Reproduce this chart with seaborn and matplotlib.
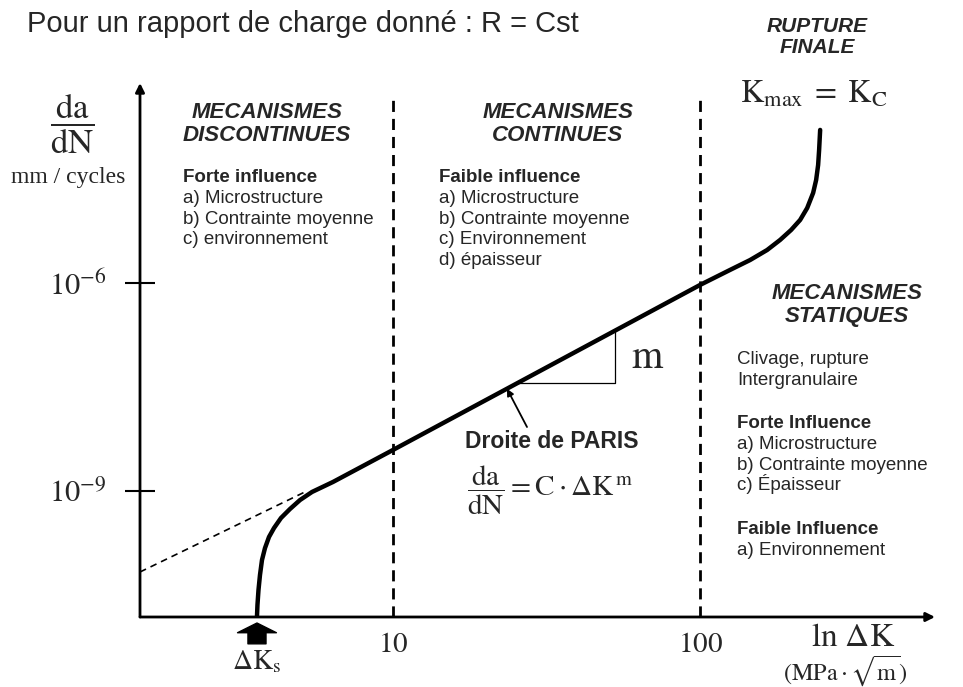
import numpy as np
import matplotlib
matplotlib.use('Agg')
import matplotlib.pyplot as plt
import seaborn as sns

dk = [3.606, 3.619, 3.647, 3.688, 3.744, 3.829, 3.946, 4.097, 4.318, 4.619,
      4.980, 5.448, 6.377, 10.0, 100.0, 125.3, 145.5, 165.3, 182.2, 197.9,
      211.7, 223.2, 233.4, 238.7, 242.3, 244.1, 246.0]
dadn = [1.55e-11, 2.27e-11, 3.73e-11, 6.13e-11, 1.01e-10, 1.50e-10, 2.17e-10,
        2.92e-10, 4.08e-10, 5.50e-10, 7.41e-10, 9.68e-10, 1.35e-9, 3.91e-9,
        9.4e-7, 1.55e-6, 2.15e-6, 3.00e-6, 4.19e-6, 5.84e-6, 8.14e-6, 1.21e-5,
        2.0e-5, 3.07e-5, 5.06e-5, 8.33e-5, 1.62e-4]
# prolongement de la droite de Paris (pointilles)
ext_dk = [1.5, 5.17]
ext_dadn = [6.78e-11, 9.7e-10]
# limites des regimes
regime_dk = [10, 100]
regime_top = 4.4e-4
yticks = [1e-9, 1e-6]
ytick_labels = [r'$10^{-9}$', r'$10^{-6}$']
xticks = [10, 100]
xtick_labels = [r'$\mathrm{10}$', r'$\mathrm{100}$']
xlim = (1.5, 582)
ylim = (1.52e-11, 7.7e-4)
# triangle de pente et fleche "Droite de PARIS"
slope_dk = [25.4, 52.8]
paris_arrow_dk = 23.5

# textes des trois zones
left_lines = ['Forte influence', 'a) Microstructure', 'b) Contrainte moyenne', 'c) environnement']
mid_lines = ['Faible influence', 'a) Microstructure', 'b) Contrainte moyenne',
             'c) Environnement', 'd) épaisseur']
right_a = ['Clivage, rupture', 'Intergranulaire']
right_b = ['Forte Influence', 'a) Microstructure', 'b) Contrainte moyenne', 'c) Épaisseur']
right_c = ['Faible Influence', 'a) Environnement']

sns.set_theme(style='white')
plt.rcParams['font.family'] = ['Liberation Sans', 'DejaVu Sans']
plt.rcParams['mathtext.fontset'] = 'stix'

W, H = 963, 687
fig = plt.figure(figsize=(W / 100, H / 100), dpi=100)
ax = fig.add_axes([140 / W, 1 - 617 / H, (935 - 140) / W, (617 - 83) / H])


def P(x, y):
    return x / W, 1 - y / H


def paris(k):
    return 10 ** np.interp(np.log10(k), np.log10(dk), np.log10(dadn))


def block(x, y, lines, bold_first=True, step=20.8):
    for i, t in enumerate(lines):
        w = 'bold' if (bold_first and i == 0) else 'normal'
        fig.text(*P(x, y + i * step + 6), t, fontsize=13.5, weight=w,
                 ha='left', va='baseline')


ax.set(xscale='log', yscale='log')
ax.set_xlim(*xlim)
ax.set_ylim(*ylim)
for s in ax.spines.values():
    s.set_visible(False)

sns.lineplot(x=dk, y=dadn, ax=ax, sort=False, estimator=None, color='black', lw=3.2)
ax.lines[-1].set_solid_joinstyle('round')
ax.plot(ext_dk, ext_dadn, color='black', lw=1.2, ls=(0, (4, 3)))
ax.vlines(regime_dk, ylim[0], regime_top, colors='black', lw=2, linestyles=(0, (4, 2.5)))

# axes avec fleches
arr = dict(arrowstyle='-|>', lw=2, color='black', mutation_scale=13, shrinkA=0, shrinkB=0)
ax.annotate('', xy=(0, 1), xytext=(0, 0), xycoords='axes fraction', arrowprops=arr)
ax.annotate('', xy=(1, 0), xytext=(0, 0), xycoords='axes fraction', arrowprops=arr)

ax.minorticks_off()
ax.set_yticks(yticks, ytick_labels)
ax.tick_params(axis='y', direction='inout', length=22, width=1.5, color='black',
               labelsize=22, pad=13, left=True)
ax.set_xticks(xticks, xtick_labels)
ax.tick_params(axis='x', length=0, labelsize=21, pad=9, bottom=True)

# triangle de pente
k1, k2 = slope_dk
ax.plot([k1, k2, k2], [paris(k1), paris(k1), paris(k2)], color='black', lw=0.9)
ax.text(k2 * 1.13, np.sqrt(paris(k1) * paris(k2)), r'$\mathrm{m}$', fontsize=29,
        ha='left', va='center')

# fleche Droite de PARIS
ax.annotate('', xy=(paris_arrow_dk, paris(paris_arrow_dk)), xytext=(527, H - 427),
            textcoords='figure pixels',
            arrowprops=dict(arrowstyle='-|>', lw=1.3, color='black', mutation_scale=10,
                            shrinkA=0, shrinkB=0))

# seuil delta K_s
ax.annotate('', xy=(dk[0], -6 / 534), xycoords=('data', 'axes fraction'),
            xytext=(0, -15), textcoords='offset points',
            arrowprops=dict(arrowstyle='simple,head_length=0.35,head_width=1.4,tail_width=0.65',
                            color='black', mutation_scale=20, shrinkA=0, shrinkB=0))

serif = ['Liberation Serif', 'DejaVu Serif']

fig.text(*P(27, 24), 'Pour un rapport de charge donné : R = Cst', fontsize=21, va='center')
fig.text(*P(72, 124), r'$\dfrac{\mathrm{da}}{\mathrm{dN}}$', fontsize=25, ha='center', va='center')
fig.text(*P(68, 177), 'mm / cycles', family=serif, fontsize=17, ha='center', va='center')

fig.text(*P(817, 37), 'RUPTURE\nFINALE', fontsize=15, weight='bold', style='italic',
         ha='center', va='center', linespacing=1.1)
fig.text(*P(814, 95), r'$\mathrm{K}_{\mathrm{max}}\;=\;\mathrm{K}_{\mathrm{C}}$', fontsize=23,
         ha='center', va='center')

head = dict(fontsize=16, weight='bold', style='italic', ha='center', va='center', linespacing=1.1)
fig.text(*P(267, 124), 'MECANISMES\nDISCONTINUES', **head)
fig.text(*P(558, 124), 'MECANISMES\nCONTINUES', **head)
fig.text(*P(847, 305), 'MECANISMES\nSTATIQUES', **head)

block(183, 176, left_lines)
block(439, 176, mid_lines)
block(737, 358, right_a, bold_first=False)
block(737, 422, right_b)
block(737, 528, right_c)

fig.text(*P(552, 441), 'Droite de PARIS', fontsize=16.5, weight='bold', ha='center', va='center')
fig.text(*P(550, 490), r'$\dfrac{\mathrm{da}}{\mathrm{dN}}=\mathrm{C}\cdot\Delta\mathrm{K}^{\,\mathrm{m}}$',
         fontsize=21, ha='center', va='center')

fig.text(*P(257, 662), r'$\Delta\mathrm{K}_{\mathrm{s}}$', fontsize=20, ha='center', va='center')
fig.text(*P(853, 638), r'$\mathrm{ln}\ \Delta\mathrm{K}$', fontsize=24, ha='center', va='center')
fig.text(*P(845, 671), r'$(\mathrm{MPa}\cdot\sqrt{\mathrm{m}})$', fontsize=17.5, ha='center', va='center')

fig.savefig('out.png', dpi=100)
